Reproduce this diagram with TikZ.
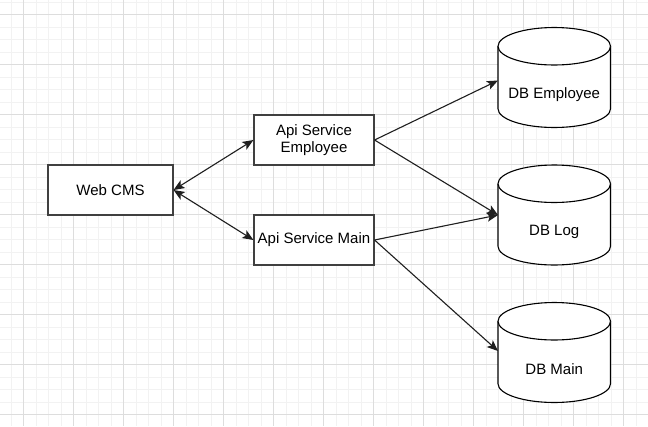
\documentclass[tikz,border=0pt]{standalone}
\usepackage{fontspec}
\setmainfont{Liberation Sans}
\usetikzlibrary{arrows.meta}
\newcommand\dbcylinder[4]{%
  % #1 name, #2 left x, #3 top y, #4 label
  \filldraw[cylline] (#2,#3+18.75) arc[start angle=180, end angle=0, x radius=56.25pt, y radius=18.75pt]
    -- (#2+112.5,#3+81.25) arc[start angle=0, end angle=-180, x radius=56.25pt, y radius=18.75pt] -- cycle;
  \draw[cylline] (#2,#3+18.75) arc[start angle=180, end angle=360, x radius=56.25pt, y radius=18.75pt];
  \node[boxarea] (#1) at (#2+56.25,#3+50) {};
  \node[lbl] (#1-label) at (#2+56.25,#3+67) {#4};
}
\begin{document}
\begin{tikzpicture}[x=1pt,y=-1pt,
  minorgrid/.style={draw=gray!10, line width=1pt},
  majorgrid/.style={draw=gray!27, line width=1pt},
  procbox/.style={draw=black!75, fill=white, line width=1.1pt, inner sep=0pt,
    minimum height=50pt, align=center, font=\fontsize{15}{17.5}\selectfont},
  cylline/.style={draw=black, fill=white, line width=1.1pt},
  boxarea/.style={inner sep=0pt, minimum width=112.5pt, minimum height=100pt},
  lbl/.style={inner sep=0pt, font=\fontsize{15}{17.5}\selectfont},
  tip/.style={Stealth[length=11pt, width=9pt, inset=2.5pt]},
  conn/.style={draw=black!88, line width=1.1pt, -{Stealth[length=11pt, width=9pt, inset=2.5pt]}},
  biconn/.style={draw=black!88, line width=1.1pt, {Stealth[length=11pt, width=9pt, inset=2.5pt]}-{Stealth[length=11pt, width=9pt, inset=2.5pt]}}
]
\useasboundingbox (0,0) rectangle (648,426);
\fill[white] (0,0) rectangle (648,426);
% grid
\foreach \i in {0,...,53} { \draw[minorgrid] ({-1.5+12.5*\i},0) -- ({-1.5+12.5*\i},426); }
\foreach \i in {0,...,35} { \draw[minorgrid] (0,{2+12.5*\i}) -- (648,{2+12.5*\i}); }
\foreach \i in {0,...,12} { \draw[majorgrid] ({23.5+50*\i},0) -- ({23.5+50*\i},426); }
\foreach \i in {0,...,8} { \draw[majorgrid] (0,{14.5+50*\i}) -- (648,{14.5+50*\i}); }

% process boxes
\node[procbox, minimum width=125pt] (web) at (110.5,190) {Web CMS};
\node[procbox, minimum width=120pt] (apie) at (314,140) {Api Service\\Employee};
\node[procbox, minimum width=120pt] (apim) at (314,240) {Api Service Main};

% databases
\dbcylinder{dbe}{498}{27.5}{DB Employee}
\dbcylinder{dbl}{498}{165}{DB Log}
\dbcylinder{dbm}{498}{302.5}{DB Main}

\coordinate (dbe-in) at (498,80.5);
\coordinate (dbl-in) at (498,215);
\coordinate (dbm-in) at (498,351);

% connectors
\draw[biconn] (web.east) -- (apie.west);
\draw[biconn] (web.east) -- (apim.west);
\draw[conn] (apie.east) -- (dbe-in);
\draw[conn] (apie.east) -- (dbl-in);
\draw[conn] (apim.east) -- (dbl-in);
\draw[conn] (apim.east) -- (dbm-in);
\end{tikzpicture}
\end{document}
